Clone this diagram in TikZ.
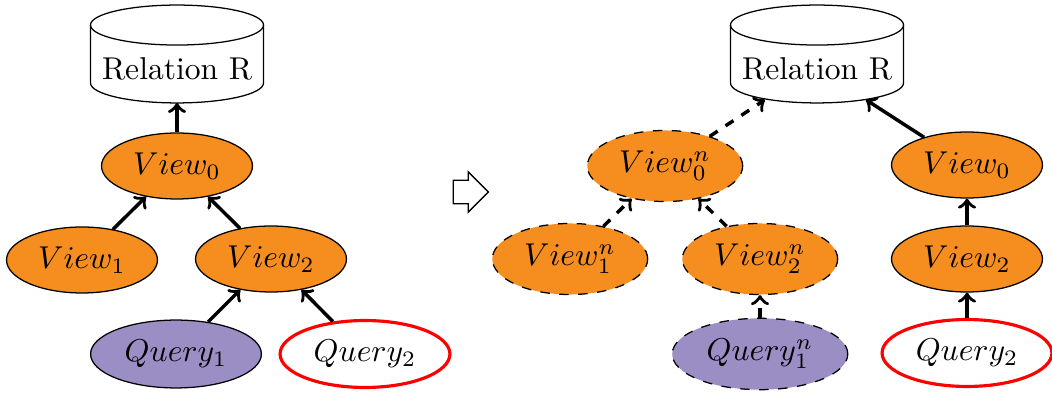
\documentclass[tikz,border=0pt]{standalone}
\usetikzlibrary{shapes.geometric,shapes.arrows}
\definecolor{vieworange}{RGB}{246,142,31}
\definecolor{querypurple}{RGB}{155,142,196}
\definecolor{queryred}{RGB}{255,0,0}
% label of the stored relation, set low in its drum
\newcommand{\reltext}{\raisebox{-4.75pt}[\height][\depth]{Relation R}}
% drum outline around a rectangular relation node
\newcommand{\drum}[1]{%
  \draw ([yshift=-6.33pt]#1.north) ellipse [x radius=27.4pt, y radius=6.33pt];
  \draw ([yshift=-6.33pt]#1.north west) -- ([yshift=6.33pt]#1.south west)
    arc [start angle=180, end angle=360, x radius=27.4pt, y radius=6.33pt]
    -- ([yshift=-6.33pt]#1.north east);}
\begin{document}
\begin{tikzpicture}[x=0.3167pt,y=-0.3167pt,
  relation/.style={rectangle, minimum width=54.8pt, minimum height=31pt,
    inner sep=0pt, outer sep=0pt},
  view/.style={ellipse, draw, fill=vieworange, minimum width=47.8pt,
    minimum height=20.9pt, inner sep=0pt},
  newview/.style={view, dashed, minimum width=49.2pt, minimum height=22.5pt},
  query/.style={ellipse, draw, fill=querypurple, minimum width=54.1pt,
    minimum height=21.5pt, inner sep=0pt},
  newquery/.style={query, dashed, minimum width=55.6pt, minimum height=22.6pt},
  pending/.style={ellipse, draw=queryred, line width=1pt, minimum width=53.8pt,
    minimum height=21.2pt, inner sep=0pt},
  link/.style={->, line width=1.1pt},
  newlink/.style={link, dashed},
  transition/.style={single arrow, draw, minimum height=11.1pt, minimum width=12.4pt,
    inner sep=3.5pt, single arrow head extend=2.7pt},
]
\useasboundingbox (0,0) rectangle (1052,394);

% original view hierarchy
\node[relation] (R) at (177,54) {\reltext};
\drum{R}
\node[view] (v0) at (177,166) {$View_0$};
\node[view] (v1) at (82,260) {$View_1$};
\node[view] (v2) at (271,259) {$View_2$};
\node[query] (q1) at (176,354) {$Query_1$};
\node[pending] (q2) at (365,354) {$Query_2$};

\draw[link] (v0) -- (R);
\draw[link] (v1) -- (v0);
\draw[link] (v2) -- (v0);
\draw[link] (q1) -- (v2);
\draw[link] (q2) -- (v2);

% transition
\node[transition] (goes) at (465,192) {};

% rewritten hierarchy
\node[relation] (Rn) at (817,54) {\reltext};
\drum{Rn}
\node[newview] (n0) at (665,166) {$View^n_0$};
\node[newview] (n1) at (570,259) {$View^n_1$};
\node[newview] (n2) at (760,259) {$View^n_2$};
\node[newquery] (nq1) at (760,354) {$Query^n_1$};
\node[view] (w0) at (967,165) {$View_0$};
\node[view] (w2) at (967,259) {$View_2$};
\node[pending] (wq2) at (967,353) {$Query_2$};

\draw[newlink] (n0) -- ([xshift=-16.5pt,yshift=1pt]Rn.south);
\draw[newlink] (n1) -- (n0);
\draw[newlink] (n2) -- (n0);
\draw[newlink] (nq1) -- (n2);
\draw[link] (w0) -- ([xshift=15.5pt,yshift=1pt]Rn.south);
\draw[link] (w2) -- (w0);
\draw[link] (wq2) -- (w2);
\end{tikzpicture}
\end{document}
